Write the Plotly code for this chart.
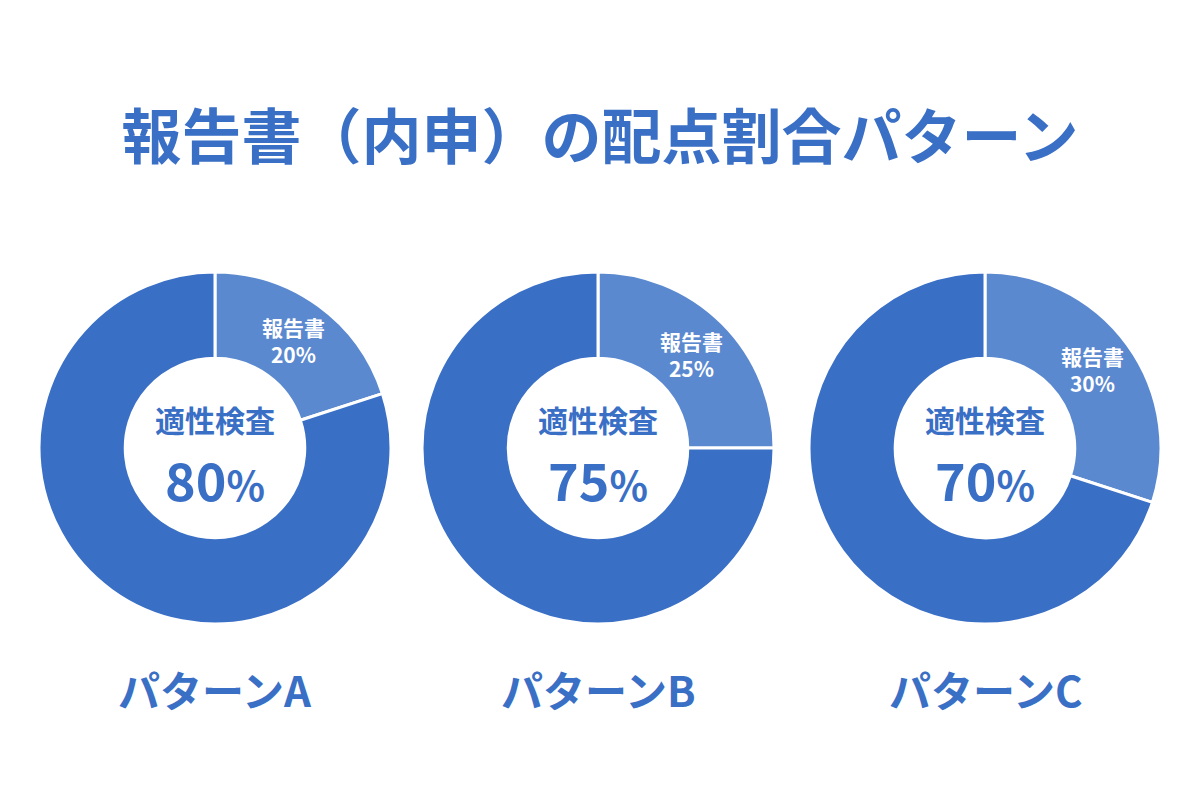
"""
Donut charts: report vs aptitude test score split per pattern.
"""
import math
import plotly.graph_objects as go

FONT = 'Noto Sans CJK JP'
DARK = '#3a6fc6'
LIGHT = '#5b89d0'

# Data
PATTERNS = ['パターンA', 'パターンB', 'パターンC']
CATEGORIES = ['報告書', '適性検査']
REPORT_PCT = [20, 25, 30]
TEST_PCT = [80, 75, 70]

# Layout in screen pixels (page has an 8px body margin)
W, H = 1200, 799
PAD = 8
CENTERS_X = [215, 598, 985]
CENTER_Y = 448
RADIUS = 176
HOLE = 0.51


def px(x):
    return (x - PAD) / W


def py(y):
    return 1 - (y - PAD) / H


fig = go.Figure()
for i, name in enumerate(PATTERNS):
    cx = CENTERS_X[i]
    fig.add_trace(go.Pie(
        labels=CATEGORIES,
        values=[REPORT_PCT[i], TEST_PCT[i]],
        textinfo='none',
        hole=HOLE,
        sort=False,
        direction='clockwise',
        rotation=0,
        marker=dict(colors=[LIGHT, DARK], line=dict(color='white', width=3)),
        domain=dict(x=[px(cx - RADIUS), px(cx + RADIUS)],
                    y=[py(CENTER_Y + RADIUS), py(CENTER_Y - RADIUS)]),
        showlegend=False,
        hoverinfo='label+percent',
    ))

    # slice label at middle of the report slice, mid-ring
    share = REPORT_PCT[i] / (REPORT_PCT[i] + TEST_PCT[i])
    ang = share * math.pi
    r = RADIUS * (1 + HOLE) / 2
    fig.add_annotation(
        x=px(cx + r * math.sin(ang)), y=py(CENTER_Y - r * math.cos(ang)),
        xref='paper', yref='paper', xanchor='center', yanchor='middle',
        text=f'<b>{CATEGORIES[0]}<br>{REPORT_PCT[i]}%</b>',
        showarrow=False,
        font=dict(family=FONT, size=21, color='white'),
    )

    # centre label
    fig.add_annotation(
        x=px(cx), y=py(CENTER_Y - 29), xref='paper', yref='paper',
        xanchor='center', yanchor='middle',
        text=f'<b>{CATEGORIES[1]}</b>', showarrow=False,
        font=dict(family=FONT, size=30, color=DARK),
    )
    fig.add_annotation(
        x=px(cx), y=py(CENTER_Y + 30), xref='paper', yref='paper',
        xanchor='center', yanchor='middle',
        text=f"<b>{TEST_PCT[i]}<span style='font-size:40px'>%</span></b>", showarrow=False,
        font=dict(family=FONT, size=52, color=DARK),
    )
    # pattern name below
    fig.add_annotation(
        x=px(cx), y=py(688), xref='paper', yref='paper',
        xanchor='center', yanchor='middle',
        text=f'<b>{name}</b>', showarrow=False,
        font=dict(family=FONT, size=42, color=DARK),
    )

fig.update_layout(
    width=W, height=H,
    title=dict(text='<b>報告書（内申）の配点割合パターン</b>', x=px(600), xanchor='center',
               y=py(138), yanchor='middle',
               font=dict(family=FONT, size=60, color=DARK)),
    paper_bgcolor='white', plot_bgcolor='white',
    margin=dict(l=0, r=0, t=0, b=0),
)
fig.write_html('out.html')
